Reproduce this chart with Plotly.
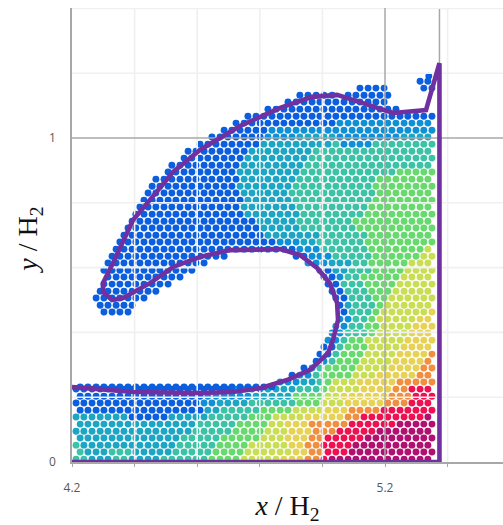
import plotly.graph_objects as go

# Particle colour classes, low to high pressure
level_colors = ["#0b5fde", "#0f8fd6", "#1ca6c4", "#3cc2a6", "#68d96e",
                "#c9de55", "#e6d257", "#ef8f3f", "#ee1050", "#b0106f"]

# Particles, estimated by eye row by row: (y*1000, colour class, [(x-4)*1000, ...])
lower_rows = [
 (9,3,[213,238]),(9,2,[264,290,315]),(9,3,[341,366]),(9,2,[392,417,443,468]),(9,3,[494,519,545,571,596,622]),(9,4,[647,673,698,724]),(9,5,[750,775,801,826,852]),(9,6,[877,903,928]),(9,7,[954,980]),(9,8,[1005]),(9,9,[1031,1056,1082,1107,1133,1158,1184,1209,1235,1261,1286,1312,1337]),
 (31,3,[226]),(31,2,[251,277,302]),(31,3,[328,353,379]),(31,2,[404,430,456,481,507]),(31,3,[532,558,583,609,634]),(31,4,[660,686,711,737]),(31,5,[762,788,813,839,865,890]),(31,6,[916,941]),(31,7,[967,992]),(31,8,[1018,1043,1069]),(31,9,[1095,1120,1146,1171,1197,1222,1248,1273,1299,1324,1350]),
 (52,3,[213]),(52,2,[238,264,290,315,341,366,392,417,443,468,494,519]),(52,3,[545,571,596,622,647]),(52,4,[673,698,724,750]),(52,5,[775,801,826,852,877]),(52,6,[903,928]),(52,7,[954,980]),(52,8,[1005,1031,1056,1082]),(52,9,[1107,1133,1158,1184,1209,1235,1261,1286,1312,1337]),
 (74,2,[226,251,277,302,328,353,379,404,430,456,481,507,532]),(74,3,[558,583,609,634,660]),(74,4,[686,711,737,762,788]),(74,5,[813,839,865]),(74,6,[890,916,941]),(74,7,[967,992]),(74,8,[1018,1043,1069,1095,1120]),(74,9,[1146,1171,1197,1222,1248,1273,1299,1324,1350]),
 (95,2,[213,238,264,290,315,341,366,392,417,443,468,494,519,545,571]),(95,3,[596,622,647,673,698]),(95,4,[724,750,775,801]),(95,5,[826,852,877]),(95,6,[903,928,954]),(95,7,[980,1005,1031]),(95,8,[1056,1082,1107,1133,1158]),(95,9,[1184,1209,1235,1261,1286,1312,1337]),
 (117,2,[226,251,277,302,328,353,379,404,430,456,481,507,532,558,583]),(117,3,[609,634,660,686,711]),(117,4,[737,762,788,813]),(117,5,[839,865]),(117,6,[890,916,941]),(117,7,[967,992,1018,1043,1069]),(117,8,[1095,1120,1146,1171,1197,1222]),(117,9,[1248,1273,1299,1324,1350]),
 (139,2,[213,238,264,290,315,341,366]),(139,0,[392,417,443,468,494]),(139,2,[519,545,571,596,622]),(139,3,[647,673,698,724,750]),(139,4,[775,801,826]),(139,5,[852,877,903,928]),(139,6,[954,980,1005,1031,1056]),(139,7,[1082,1107]),(139,8,[1133,1158,1184,1209,1235,1261,1286,1312]),(139,9,[1337]),
 (160,0,[226,251,277,302,328,353,379,404,430,456,481,507,532,558,583,609]),(160,2,[634,660]),(160,3,[686,711,737,762,788]),(160,4,[813,839,865,890]),(160,5,[916,941,967,992]),(160,6,[1018,1043,1069]),(160,7,[1095,1120,1146,1171]),(160,8,[1197,1222,1248,1273,1299,1324,1350]),
 (182,0,[213,238,264,290,315,341,366,392,417,443,468,494,519,545,571,596]),(182,1,[622,647]),(182,2,[673,698,724,750]),(182,3,[775,801,826,852,877,903]),(182,4,[928,954,980]),(182,5,[1005,1031,1056]),(182,6,[1082,1107,1133,1158,1184]),(182,7,[1209,1235,1261]),(182,8,[1286,1312,1337]),
 (203,0,[226,251,277,302,328,353,379,404,430,456,481,507,532,558,583,609]),(203,1,[634,660,686,711,737,762]),(203,2,[788,813,839,865,890]),(203,4,[916,941,967,992]),(203,5,[1018,1043]),(203,6,[1069,1095,1120,1146,1171,1197]),(203,7,[1222,1248,1273]),(203,8,[1299,1324,1350]),
 (225,0,[213,238,264,290,315,341,366,392,417,443,468,494,519,545,571,596,622,647,673,698]),(225,1,[724,750,775,801]),(225,2,[826,852,877,903]),(225,3,[928,954,980]),(225,4,[1005]),(225,5,[1031,1056,1082,1107]),(225,6,[1133,1158,1184,1209]),(225,7,[1235,1261]),(225,8,[1286,1312,1337]),
 (232,0,[226,251,277,302,328,353,379,404,430,456,481,507,532,558,583,609,634,660,686,711,737,762,788,813,839]),
 (247,1,[865,890,916]),(247,2,[941,967]),(247,3,[992]),(247,4,[1018]),(247,5,[1043,1069,1095]),(247,6,[1120,1146,1171,1197,1222]),(247,7,[1248,1273,1299,1324,1350]),
]
neck_rows = [
 (268,0,[903]),(268,1,[928,954]),(268,3,[980]),(268,4,[1005,1031,1056,1082]),(268,5,[1107,1133,1158]),(268,6,[1184,1209,1235,1261,1286]),(268,7,[1312,1337]),
 (290,0,[941]),(290,1,[967]),(290,3,[992]),(290,4,[1018,1043,1069,1095]),(290,5,[1120,1146,1171,1197]),(290,6,[1222,1248,1273,1299]),(290,7,[1324,1350]),
 (311,0,[980]),(311,1,[1005]),(311,3,[1031]),(311,4,[1056,1082,1107]),(311,5,[1133,1158,1184,1209]),(311,6,[1235,1261,1286,1312]),(311,7,[1337]),
 (333,0,[992,1018]),(333,3,[1043]),(333,4,[1069,1095,1120]),(333,5,[1146,1171,1197,1222]),(333,6,[1248,1273,1299,1324]),(333,7,[1350]),
 (355,0,[1005,1031]),(355,3,[1056]),(355,4,[1082,1107,1133]),(355,5,[1158,1184,1209,1235]),(355,6,[1261,1286,1312,1337]),
 (376,1,[1018,1043]),(376,3,[1069]),(376,4,[1095,1120]),(376,5,[1146,1171,1197,1222,1248]),(376,6,[1273,1299,1324,1350]),
 (398,1,[1031,1056]),(398,3,[1082,1107,1133]),(398,4,[1158]),(398,5,[1184,1209,1235,1261]),(398,6,[1286,1312,1337]),
 (419,1,[1043,1069]),(419,3,[1095,1120]),(419,4,[1146,1171]),(419,5,[1197,1222,1248,1273]),(419,6,[1299,1324,1350]),
 (441,1,[1056,1082]),(441,3,[1107,1133]),(441,4,[1158]),(441,5,[1184,1209,1235,1261,1286]),(441,6,[1312,1337]),
 (463,0,[302,328,353,379]),(463,0,[1069]),(463,3,[1095,1120,1146]),(463,4,[1171]),(463,5,[1197,1222,1248,1273,1299,1324]),(463,6,[1350]),
 (484,0,[290,315,341,366,392]),(484,0,[1056]),(484,2,[1082]),(484,3,[1107,1133,1158]),(484,4,[1184]),(484,5,[1209,1235,1261,1286,1312,1337]),
 (506,0,[277,302,328,353,379,404,430]),(506,0,[1043,1069]),(506,3,[1095,1120,1146]),(506,4,[1171,1197]),(506,5,[1222,1248,1273,1299,1324,1350]),
 (527,0,[290,315,341,366,392,417,443,468]),(527,0,[1031,1056]),(527,3,[1082,1107,1133]),(527,4,[1158,1184,1209]),(527,5,[1235,1261,1286,1312,1337]),
 (549,0,[302,328,353,379,404,430,456,481,507]),(549,0,[1018,1043]),(549,3,[1069,1095,1120]),(549,4,[1146,1171,1197,1222]),(549,5,[1248,1273,1299,1324,1350]),
 (571,0,[315,341,366,392,417,443,468,494,519,545]),(571,0,[1005,1031]),(571,1,[1056]),(571,3,[1082,1107]),(571,4,[1133,1158,1184,1209,1235]),(571,5,[1261,1286,1312,1337]),
 (592,0,[302,328,353,379,404,430,456,481,507,532,558,583]),(592,0,[992,1018]),(592,2,[1043,1069]),(592,3,[1095,1120,1146]),(592,4,[1171,1197,1222,1248]),(592,5,[1273,1299,1324,1350]),
 (614,0,[315,341,366,392,417,443,468,494,519,545,571,596,622]),(614,1,[954,980,1005]),(614,2,[1031,1056,1082]),(614,3,[1107,1133]),(614,4,[1158,1184,1209,1235,1261]),(614,5,[1286,1312,1337]),
 (635,0,[328,353,379,404,430,456,481,507,532,558,583,609,634,660,686]),(635,0,[916,941]),(635,1,[967,992,1018]),(635,3,[1043,1069,1095,1120,1146]),(635,4,[1171,1197,1222,1248,1273,1299]),(635,5,[1324,1350]),
]
upper_rows = [
 (657,0,[341,366,392,417,443,468,494,519,545,571,596,622,647,673,698,724,750,775,801,826,852,877,903]),(657,1,[928,954,980]),(657,3,[1005,1031,1056,1082,1107,1133]),(657,4,[1158,1184,1209,1235,1261,1286,1312]),(657,5,[1337]),
 (679,0,[353,379,404,430,456,481,507,532,558,583,609,634,660,686,711,737,762,788,813,839]),(679,1,[865,890,916]),(679,2,[941,967]),(679,3,[992,1018,1043,1069,1095,1120]),(679,4,[1146,1171,1197,1222,1248,1273,1299,1324,1350]),
 (700,0,[366,392,417,443,468,494,519,545,571,596,622,647,673,698,724,750,775,801]),(700,2,[826,852,877,903,928,954,980]),(700,3,[1005,1031,1056,1082,1107,1133]),(700,4,[1158,1184,1209,1235,1261,1286,1312,1337]),
 (722,0,[379,404,430,456,481,507,532,558,583,609,634,660,686,711,737,762,788]),(722,2,[813,839,865,890,916]),(722,3,[941,967,992,1018,1043,1069,1095]),(722,4,[1120,1146,1171,1197,1222,1248,1273,1299,1324,1350]),
 (743,0,[392,417,443,468,494,519,545,571,596,622,647,673,698,724,750,775]),(743,2,[801,826,852,877,903]),(743,3,[928,954,980,1005,1031,1056,1082]),(743,4,[1107,1133,1158,1184,1209,1235,1261,1286,1312,1337]),
 (765,0,[404,430,456,481,507,532,558,583,609,634,660,686,711,737]),(765,2,[762,788,813,839,865,890,916]),(765,3,[941,967,992,1018,1043,1069,1095,1120]),(765,4,[1146,1171,1197,1222,1248,1273,1299,1324,1350]),
 (787,0,[417,443,468,494,519,545,571,596,622,647,673,698,724]),(787,2,[750,775,801,826,852,877,903]),(787,3,[928,954,980,1005,1031,1056,1082,1107,1133]),(787,4,[1158,1184,1209,1235,1261,1286,1312,1337]),
 (808,0,[430,456,481,507,532,558,583,609,634,660,686,711,737]),(808,2,[762,788,813,839,865,890]),(808,3,[916,941,967,992,1018,1043,1069,1095,1120,1146]),(808,4,[1171,1197,1222,1248,1273,1299,1324,1350]),
 (830,0,[443,468,494,519,545,571,596,622,647,673,698,724]),(830,2,[750,775,801,826,852,877]),(830,3,[903,928,954,980,1005,1031,1056,1082,1107,1133,1158]),(830,4,[1184,1209,1235,1261,1286,1312,1337]),
 (851,0,[456,481,507,532,558,583,609,634,660,686,711]),(851,2,[737,762,788,813,839,865,890]),(851,3,[916,941,967,992,1018,1043,1069,1095,1120,1146]),(851,4,[1171,1197,1222,1248,1273,1299,1324,1350]),
 (873,0,[468,494,519,545,571,596,622,647,673,698,724]),(873,2,[750,775,801,826,852,877,903]),(873,3,[928,954,980,1005,1031,1056,1082,1107,1133,1158]),(873,4,[1184,1209,1235,1261,1286,1312,1337]),
 (895,0,[507,532,558,583,609,634,660,686,711]),(895,2,[737,762,788,813,839,865,890,916]),(895,3,[941,967,992,1018,1043,1069,1095,1120,1146,1171,1197,1222]),(895,4,[1248,1273,1299,1324,1350]),
 (916,0,[519,545,571,596,622,647,673,698,724]),(916,2,[750,775,801,826,852,877,903,928]),(916,3,[954,980,1005,1031,1056,1082,1107,1133,1158,1184,1209,1235,1261,1286,1312,1337]),
 (938,0,[558,583,609,634,660,686,711,737]),(938,2,[762,788,813,839,865,890,916,941]),(938,3,[967,992,1018,1043,1069,1095,1120,1146,1171,1197,1222,1248,1273,1299,1324,1350]),
 (959,0,[571,596,622,647,673,698,724,750]),(959,2,[775,801,826,852,877,903,928,954]),(959,3,[980,1005,1031,1056,1082,1107,1133,1158,1184,1209,1235,1261,1286,1312,1337]),
 (981,0,[609,634,660,686,711,737,762,788]),(981,2,[813,839,865,890,916,941,967,992,1018]),(981,3,[1043]),(981,1,[1069,1095,1120,1146]),(981,3,[1171,1197,1222,1248,1273,1299,1324,1350]),
 (1003,0,[647,673,698,724,750,775,801]),(1003,1,[826,852,877,903]),(1003,2,[928,954,980,1005,1031]),(1003,1,[1056,1082,1107,1133,1158,1184,1209,1235]),(1003,2,[1261,1286,1312,1337]),
 (1024,0,[686,711,737,762,788,813]),(1024,1,[839,865,890,916,941,967,992,1018,1043,1069,1095,1120,1146,1171,1197,1222,1248,1273,1299,1324,1350]),
 (1046,0,[724,750,775,801,826,852,877,903,928,954,980,1005,1031]),(1046,1,[1056,1082,1107,1133,1158,1184,1209,1235,1261,1286,1312,1337]),
 (1067,0,[762,788,813,839,865,890,916,941,967,992,1018,1043,1069,1095,1120,1146,1171,1197,1222,1248,1273,1299,1324,1350]),
 (1089,0,[826,852,877,903,928,954,980,1005,1031,1056,1082,1107,1133,1158,1184,1209,1235]),
 (1111,0,[890,916,941,967,992,1018,1043,1069,1095,1120,1146,1171,1197]),
 (1132,0,[928,954,980,1005,1031,1082,1107,1133,1158,1184,1209]),
 (1154,0,[1120,1146,1171,1197,1324,1350]),
 (1175,0,[1312,1337]),
 (1191,0,[1340]),
]

# Free surface and tank outline
surface_x = [4.2, 4.289, 4.395, 4.609, 4.714, 4.801, 4.887, 4.960, 5.018, 5.034, 5.050, 5.047,
             5.024, 4.983, 4.928, 4.865, 4.705, 4.609, 4.523, 4.449, 4.363, 4.328, 4.299, 4.299,
             4.331, 4.395, 4.449, 4.523, 4.609, 4.737, 4.865, 4.967, 5.047, 5.226, 5.331, 5.374,
             5.374, 4.2]
surface_y = [.231, .225, .216, .213, .216, .228, .253, .284, .336, .377, .438, .491,
             .552, .599, .639, .657, .654, .633, .602, .552, .506, .500, .525, .552,
             .614, .747, .809, .895, .963, 1.037, 1.093, 1.127, 1.133, 1.077, 1.086, 1.231,
             0, 0]

x_ticks = [4.2, 5.2]
x_tick_text = ["4.2", "5.2"]
x_minor_ticks = [4.4, 4.6, 4.8, 5.0, 5.4]
y_ticks = [0, 1]
y_tick_text = ["0", "1"]
x_light_grid = [4.4, 4.6, 4.8, 5.0, 5.4]
y_light_grid = [0.2, 0.4, 0.6, 0.8, 1.2, 1.4]
x_major_grid = [5.2]
y_major_grid = [1]
X_MIN, X_MAX = 4.2, 5.577
Y_MIN, Y_MAX = 0, 1.4012
wall_x = [5.374, 5.374]
wall_y = [1.231, 1.398]

LIGHT = "#f0f0f0"
MAJOR = "#a8a8a8"
PURPLE = "#7030a0"

px, py, pc = [], [], []
for yv, level, xs in lower_rows + neck_rows + upper_rows:
    for xv in xs:
        px.append(4 + xv / 1000)
        py.append(yv / 1000)
        pc.append(level_colors[level])

fig = go.Figure()
fig.add_trace(go.Scatter(x=px, y=py, mode="markers", hoverinfo="skip",
                         marker=dict(size=6.9, color=pc, line=dict(width=0))))


def grid_trace(xs, ys, color, width):
    fig.add_trace(go.Scatter(x=xs, y=ys, mode="lines", hoverinfo="skip",
                             line=dict(color=color, width=width)))


for v in x_light_grid:
    grid_trace([v, v], [Y_MIN, Y_MAX], LIGHT, 1.6)
for v in y_light_grid:
    grid_trace([X_MIN, X_MAX], [v, v], LIGHT, 1.6)
for v in y_major_grid:
    grid_trace([X_MIN, X_MAX], [v, v], MAJOR, 1.5)
for v in x_major_grid:
    grid_trace([v, v], [Y_MIN, Y_MAX], MAJOR, 1.5)
grid_trace(wall_x, wall_y, MAJOR, 1.5)

fig.add_trace(go.Scatter(x=surface_x, y=surface_y, mode="lines", cliponaxis=False, hoverinfo="skip",
                         line=dict(color=PURPLE, width=4.6, simplify=False)))

title_font = dict(family="Liberation Serif", size=28, color="#111111")
tick_font = dict(family="Open Sans", size=12, color="#595959")

fig.update_layout(
    width=503, height=525, autosize=False, showlegend=False,
    margin=dict(l=72, r=0, t=8, b=63, autoexpand=False),
    paper_bgcolor="white", plot_bgcolor="white",
    xaxis=dict(range=[X_MIN, X_MAX], tickvals=x_ticks, ticktext=x_tick_text, ticks="outside",
               ticklen=3, tickcolor=MAJOR, tickwidth=1, tickfont=tick_font, showgrid=False,
               zeroline=False, showline=True, linecolor=MAJOR, linewidth=1.5,
               ticklabelstandoff=11, automargin=False,
               minor=dict(tickvals=x_minor_ticks, ticks="outside", ticklen=3, tickcolor=MAJOR,
                          tickwidth=1, showgrid=False),
               title=dict(text="<i>x</i> / H<sub>2</sub>", font=title_font, standoff=14)),
    yaxis=dict(range=[Y_MIN, Y_MAX], tickvals=y_ticks, ticktext=y_tick_text, ticks="",
               tickfont=tick_font, showgrid=False, zeroline=False, showline=True,
               linecolor=MAJOR, linewidth=1.5, ticklabelstandoff=12, automargin=False,
               title=dict(text="<i>y</i> / H<sub>2</sub>&nbsp;", font=title_font, standoff=3)),
)
fig.write_html("out.html", config=dict(displayModeBar=False),
               post_script="document.body.style.margin='0';document.body.style.overflow='hidden';")
